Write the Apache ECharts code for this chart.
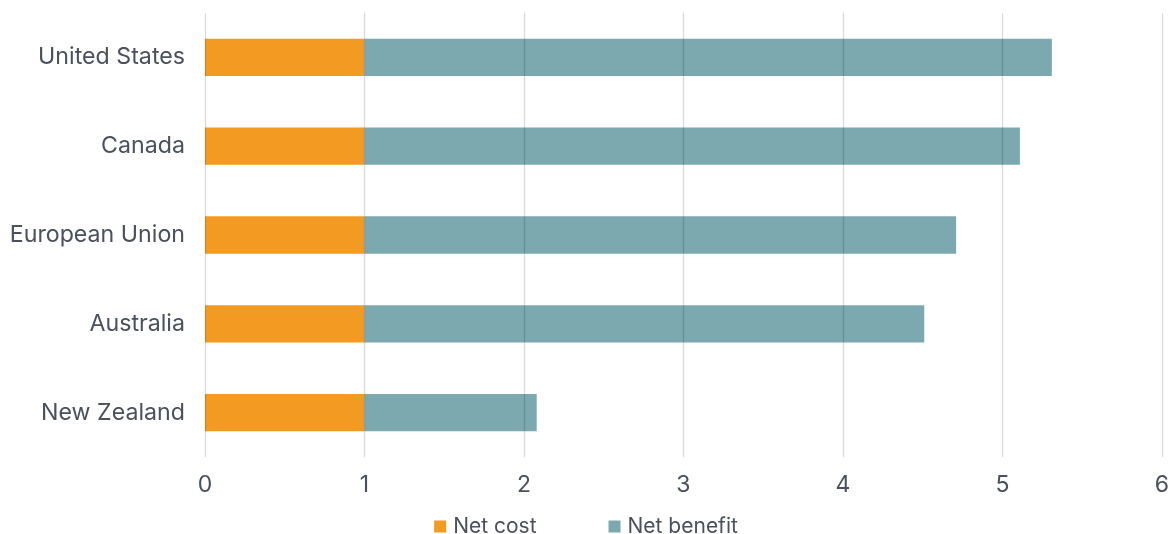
<!DOCTYPE html>
<html><head><meta charset="utf-8">
<script src="https://cdn.jsdelivr.net/npm/echarts@6/dist/echarts.min.js"></script>
<style>html,body{margin:0;padding:0;background:#fff}#c{width:1172px;height:534px}</style>
</head><body><div id="c"></div>
<script>
const categories = ["United States", "Canada", "European Union", "Australia", "New Zealand"];
const netCost = [1, 1, 1, 1, 1];
const netBenefit = [4.31, 4.11, 3.71, 3.51, 1.08];
const xTicks = [0, 1, 2, 3, 4, 5, 6];

const chart = echarts.init(document.getElementById('c'));
chart.setOption({
  animation: false,
  textStyle: { fontFamily: 'Inter' },
  grid: { left: 205, right: 7, top: 13, bottom: 77 },
  legend: {
    data: ['Net cost', 'Net benefit'],
    top: 516, left: 'center', padding: 0,
    itemWidth: 12, itemHeight: 12, itemGap: 72,
    icon: 'rect',
    textStyle: { fontSize: 21, color: '#4a505c', fontFamily: 'Inter', padding: [0, 0, 0, 2] }
  },
  xAxis: {
    type: 'value', min: xTicks[0], max: xTicks[xTicks.length - 1], interval: 1,
    z: 10,
    axisLine: { show: false }, axisTick: { show: false },
    axisLabel: { fontSize: 23, color: '#4a505c', margin: 17, fontFamily: 'Inter' },
    splitLine: { show: true, lineStyle: { color: 'rgba(0,0,0,0.15)', width: 1.3 } }
  },
  yAxis: {
    type: 'category', data: categories, inverse: true,
    axisLine: { show: false }, axisTick: { show: false },
    axisLabel: { fontSize: 23.2, color: '#4a505c', margin: 20, fontFamily: 'Inter' }
  },
  series: [
    { name: 'Net cost', type: 'bar', stack: 't', data: netCost, barWidth: '42%',
      itemStyle: { color: '#f29a21' } },
    { name: 'Net benefit', type: 'bar', stack: 't', data: netBenefit, barWidth: '42%',
      itemStyle: { color: '#7ca8b0' } }
  ]
});
</script></body></html>
